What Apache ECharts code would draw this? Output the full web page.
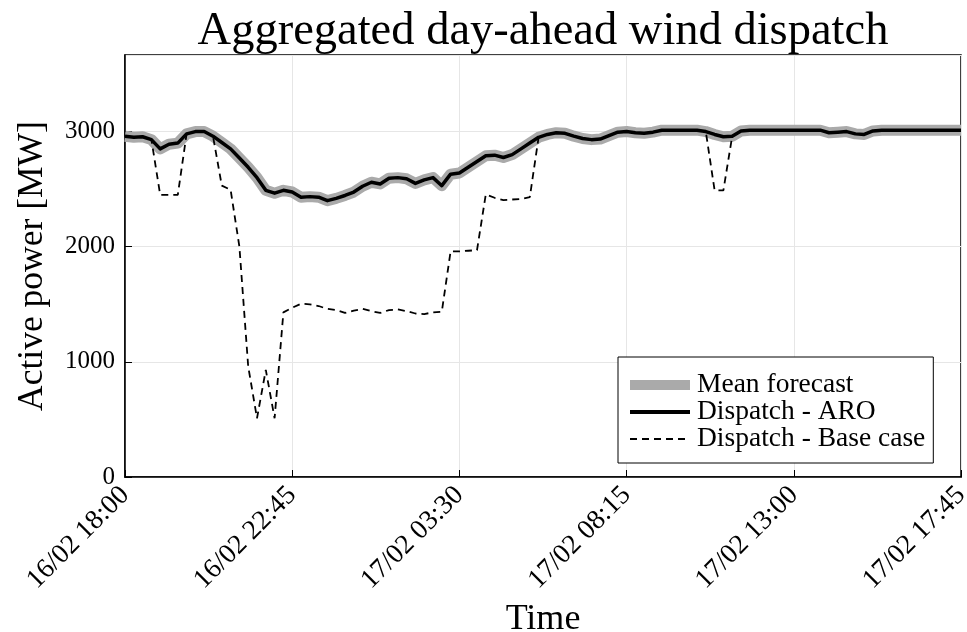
<!DOCTYPE html>
<html>
<head>
<meta charset="utf-8">
<script src="https://cdn.jsdelivr.net/npm/echarts@6/dist/echarts.min.js"></script>
<style>
html,body{margin:0;padding:0;background:#fff;}
#chart{width:967px;height:632px;}
</style>
</head>
<body>
<div id="chart"></div>
<script>
// x tick labels (every 19 steps of 15 min)
var tickLabels = ["16/02 18:00", "16/02 22:45", "17/02 03:30", "17/02 08:15", "17/02 13:00", "17/02 17:45"];

// Mean forecast [MW], 96 quarter-hour steps
var meanForecast = [
  2960, 2950, 2955, 2930, 2850, 2890, 2900, 2980, 3000, 3000,
  2960, 2905, 2850, 2770, 2690, 2600, 2490, 2465, 2490, 2475,
  2430, 2435, 2430, 2400, 2420, 2445, 2475, 2525, 2560, 2545,
  2595, 2600, 2590, 2550, 2580, 2600, 2530, 2630, 2640, 2690,
  2740, 2790, 2795, 2775, 2800, 2850, 2900, 2950, 2975, 2990,
  2985, 2960, 2940, 2930, 2935, 2965, 2995, 3000, 2990, 2985,
  2995, 3012, 3012, 3012, 3012, 3012, 3000, 2975, 2955, 2960,
  3005, 3012, 3012, 3012, 3012, 3012, 3012, 3012, 3012, 3012,
  2990, 2995, 3000, 2980, 2975, 3005, 3012, 3012, 3012, 3012,
  3012, 3012, 3012, 3012, 3012, 3012
];

// Dispatch - ARO [MW]
var dispatchARO = [
  2960, 2950, 2955, 2930, 2850, 2890, 2900, 2980, 3000, 3000,
  2960, 2905, 2850, 2770, 2690, 2600, 2490, 2465, 2490, 2475,
  2430, 2435, 2430, 2400, 2420, 2445, 2475, 2525, 2560, 2545,
  2595, 2600, 2590, 2550, 2580, 2600, 2530, 2630, 2640, 2690,
  2740, 2790, 2795, 2775, 2800, 2850, 2900, 2950, 2975, 2990,
  2985, 2960, 2940, 2930, 2935, 2965, 2995, 3000, 2990, 2985,
  2995, 3012, 3012, 3012, 3012, 3012, 3000, 2975, 2955, 2960,
  3005, 3012, 3012, 3012, 3012, 3012, 3012, 3012, 3012, 3012,
  2990, 2995, 3000, 2980, 2975, 3005, 3012, 3012, 3012, 3012,
  3012, 3012, 3012, 3012, 3012, 3012
];

// Dispatch - Base case [MW]
var dispatchBase = [
  2960, 2950, 2955, 2930, 2450, 2450, 2450, 2980, 3000, 3000,
  2960, 2530, 2495, 2000, 960, 510, 930, 510, 1430, 1470,
  1505, 1500, 1485, 1460, 1450, 1425, 1445, 1460, 1440, 1425,
  1450, 1455, 1440, 1420, 1415, 1430, 1435, 1960, 1960, 1965,
  1970, 2455, 2425, 2405, 2410, 2415, 2430, 2950, 2975, 2990,
  2985, 2960, 2940, 2930, 2935, 2965, 2995, 3000, 2990, 2985,
  2995, 3012, 3012, 3012, 3012, 3012, 3000, 2490, 2490, 2960,
  3005, 3012, 3012, 3012, 3012, 3012, 3012, 3012, 3012, 3012,
  2990, 2995, 3000, 2980, 2975, 3005, 3012, 3012, 3012, 3012,
  3012, 3012, 3012, 3012, 3012, 3012
];

var seriesNames = ["Mean forecast", "Dispatch - ARO", "Dispatch - Base case"];

function pairs(arr) { return arr.map(function (v, i) { return [i, v]; }); }

var FONT = "'Liberation Serif', 'DejaVu Serif', serif";
var chart = echarts.init(document.getElementById('chart'), null, {renderer: 'canvas'});

chart.setOption({
  animation: false,
  backgroundColor: '#ffffff',
  title: {
    text: 'Aggregated day-ahead wind dispatch',
    left: 538, top: 3, textAlign: 'center',
    textStyle: {fontFamily: FONT, fontSize: 46.5, fontWeight: 'normal', color: '#000'}
  },
  grid: {left: 125, right: 6, top: 55, bottom: 155, show: true, borderColor: '#000', borderWidth: 1.5,
    backgroundColor: 'transparent', containLabel: false, outerBoundsMode: 'none'},
  legend: {
    orient: 'vertical', left: 618, top: 357,
    backgroundColor: '#fff', borderColor: '#000', borderWidth: 1, borderRadius: 0,
    padding: [14, 8, 10, 7], itemGap: -1, itemWidth: 60, itemHeight: 20,
    textStyle: {fontFamily: FONT, fontSize: 27.5, color: '#000', padding: [0, 0, 0, 2]},
    data: [
      {name: seriesNames[0], itemStyle: {opacity: 0}, lineStyle: {width: 10, color: '#aaaaaa'}},
      {name: seriesNames[1], itemStyle: {opacity: 0}, lineStyle: {width: 4, color: '#000'}},
      {name: seriesNames[2], itemStyle: {opacity: 0}, lineStyle: {width: 2, color: '#000', type: [7, 5]}}
    ]
  },
  xAxis: {
    type: 'value', min: 0, max: 95, interval: 19,
    name: 'Time', nameLocation: 'middle', nameGap: 125,
    nameTextStyle: {fontFamily: FONT, fontSize: 36, color: '#000'},
    axisLine: {show: true, lineStyle: {color: '#000', width: 1.5}},
    axisTick: {show: true, inside: true, length: 7, lineStyle: {color: '#000', width: 1}},
    axisLabel: {
      rotate: 45, margin: 14, fontFamily: FONT, fontSize: 27.5, color: '#000',
      formatter: function (v) { return tickLabels[Math.round(v / 19)] || ''; }
    },
    splitLine: {show: true, lineStyle: {color: '#e6e6e6', width: 1}}
  },
  yAxis: {
    type: 'value', min: 0, max: 3665, interval: 1000,
    name: 'Active power [MW]', nameLocation: 'middle', nameGap: 74,
    nameTextStyle: {fontFamily: FONT, fontSize: 35.5, color: '#000'},
    axisLine: {show: true, lineStyle: {color: '#000', width: 1.5}},
    axisTick: {show: true, inside: true, length: 7, lineStyle: {color: '#000', width: 1}},
    axisLabel: {showMaxLabel: false, margin: 10, fontFamily: FONT, fontSize: 25, color: '#000',
      formatter: function (v) { return String(v); }},
    splitLine: {show: true, lineStyle: {color: '#e6e6e6', width: 1}}
  },
  series: [
    {name: seriesNames[0], type: 'line', data: pairs(meanForecast), symbol: 'none',
     lineStyle: {color: '#aaaaaa', width: 11, join: 'round'}, itemStyle: {color: '#aaaaaa'}, z: 2},
    {name: seriesNames[1], type: 'line', data: pairs(dispatchARO), symbol: 'none',
     lineStyle: {color: '#000', width: 3.5, join: 'round'}, itemStyle: {color: '#000'}, z: 3},
    {name: seriesNames[2], type: 'line', data: pairs(dispatchBase), symbol: 'none',
     lineStyle: {color: '#000', width: 1.8, type: [7, 5]}, itemStyle: {color: '#000'}, z: 4}
  ]
});
</script>
</body>
</html>
